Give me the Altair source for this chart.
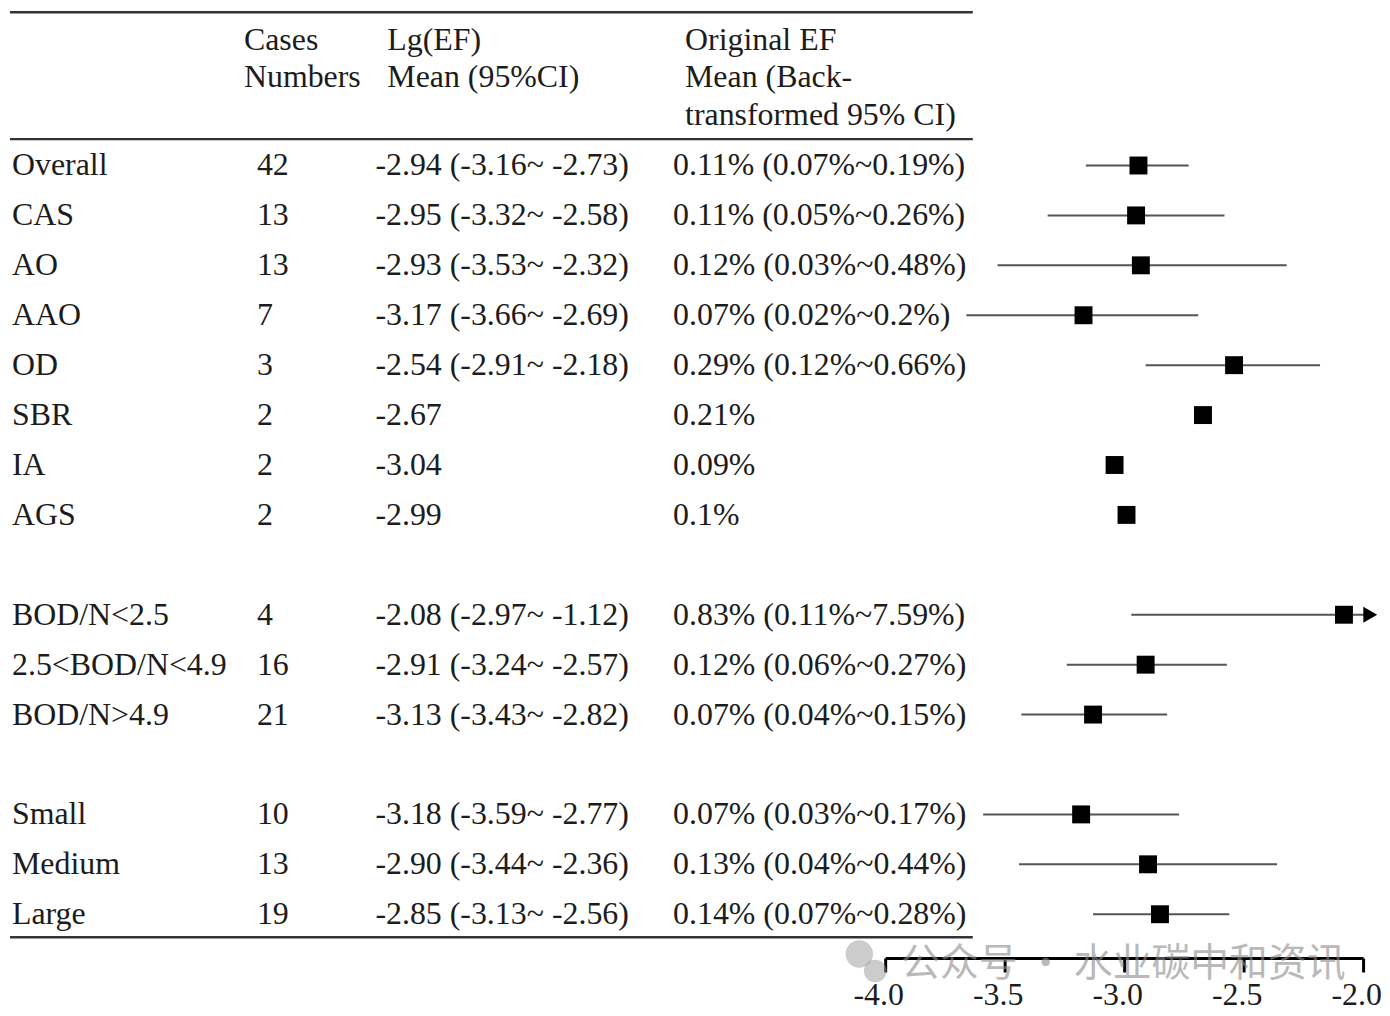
import altair as alt
import pandas as pd

# ---------------- data ----------------
labels = ["Overall", "CAS", "AO", "AAO", "OD", "SBR", "IA", "AGS",
          "BOD/N<2.5", "2.5<BOD/N<4.9", "BOD/N>4.9",
          "Small", "Medium", "Large"]
row_pos = [0, 1, 2, 3, 4, 5, 6, 7, 9, 10, 11, 13, 14, 15]
cases = [42, 13, 13, 7, 3, 2, 2, 2, 4, 16, 21, 10, 13, 19]
lg_mean = [-2.94, -2.95, -2.93, -3.17, -2.54, -2.67, -3.04, -2.99,
           -2.08, -2.91, -3.13, -3.18, -2.90, -2.85]
lg_low = [-3.16, -3.32, -3.53, -3.66, -2.91, None, None, None,
          -2.97, -3.24, -3.43, -3.59, -3.44, -3.13]
lg_high = [-2.73, -2.58, -2.32, -2.69, -2.18, None, None, None,
           -1.12, -2.57, -2.82, -2.77, -2.36, -2.56]
orig_text = ["0.11% (0.07%~0.19%)", "0.11% (0.05%~0.26%)", "0.12% (0.03%~0.48%)",
             "0.07% (0.02%~0.2%)", "0.29% (0.12%~0.66%)", "0.21%", "0.09%", "0.1%",
             "0.83% (0.11%~7.59%)", "0.12% (0.06%~0.27%)", "0.07% (0.04%~0.15%)",
             "0.07% (0.03%~0.17%)", "0.13% (0.04%~0.44%)", "0.14% (0.07%~0.28%)"]

header_cases = "Cases\nNumbers"
header_lg = "Lg(EF)\nMean (95%CI)"
header_orig = "Original EF\nMean (Back-\ntransformed 95% CI)"
axis_ticks = [-4.0, -3.5, -3.0, -2.5, -2.0]
x_domain = [-4.0, -2.0]
watermark = "公众号 · 水业碳中和资讯"

ARROW_X = -1.97  # where the out-of-range arrow head is drawn

lg_text = []
for m, l, u in zip(lg_mean, lg_low, lg_high):
    s = f"{m:.2f}"
    if l is not None:
        s += f" ({l:.2f}~ {u:.2f})"
    lg_text.append(s)

df = pd.DataFrame({
    "label": labels, "r": row_pos, "cases": [str(c) for c in cases],
    "lg_text": lg_text, "orig_text": orig_text,
    "mean": lg_mean, "low": lg_low, "high": lg_high,
})
ci = df.dropna(subset=["low"]).copy()
ci["high_draw"] = ci["high"].clip(upper=ARROW_X)
arrow = ci[ci["high"] > x_domain[1]].copy()
arrow["ax"] = ARROW_X

# ---------------- scales ----------------
FONT = "Liberation Serif"
FS = 32
TXT = "#1c1c1c"

x_scale = alt.Scale(domain=x_domain, range=[881, 1361], nice=False, zero=False)
y_scale = alt.Scale(domain=[0, 15], range=[156, 908], nice=False, zero=False)
x_axis = alt.Axis(values=axis_ticks, title=None, grid=False,
                  labelExpr="(datum.value < 0 ? '-' : '') + format(abs(datum.value), '.1f')",
                  labelFont=FONT, labelFontSize=FS, labelColor=TXT, labelPadding=8,
                  labelOffset=-7,
                  domainColor="#000000", domainWidth=3, tickColor="#000000",
                  tickWidth=3, tickSize=14, labelFlush=False, labelOverlap=False)

Y = alt.Y("r:Q", scale=y_scale, axis=None)

def col_text(field, xpix):
    return alt.Chart(df).mark_text(
        align="left", baseline="middle", font=FONT, fontSize=FS, color=TXT
    ).encode(x=alt.value(xpix), y=Y, text=f"{field}:N")

def hrule(ypix, x2pix):
    return alt.Chart(pd.DataFrame({"k": [0]})).mark_rule(
        color="#333333", strokeWidth=2.5
    ).encode(x=alt.value(2), x2=alt.value(x2pix), y=alt.value(ypix))

def header(text, xpix):
    return alt.Chart(pd.DataFrame({"t": [text]})).mark_text(
        align="left", baseline="top", font=FONT, fontSize=FS, color=TXT,
        lineBreak="\n", lineHeight=37.5
    ).encode(x=alt.value(xpix), y=alt.value(15), text="t:N")

rules = hrule(2, 969) + hrule(129.5, 969) + hrule(931, 969)
headers = header(header_cases, 237) + header(header_lg, 381) + header(header_orig, 680)
table = (col_text("label", 4) + col_text("cases", 250)
         + col_text("lg_text", 369) + col_text("orig_text", 668))

ci_lines = alt.Chart(ci).mark_rule(color="#555555", strokeWidth=2).encode(
    x=alt.X("low:Q", scale=x_scale, axis=x_axis), x2="high_draw:Q", y=Y)
squares = alt.Chart(df).mark_square(size=324, color="#000000", opacity=1).encode(
    x=alt.X("mean:Q", scale=x_scale, axis=x_axis), y=Y)
arrows = alt.Chart(arrow).mark_point(shape="triangle-right", filled=True,
                                     size=260, color="#000000", opacity=1).encode(
    x=alt.X("ax:Q", scale=x_scale, axis=x_axis), y=Y)

wm_icon = (alt.Chart(pd.DataFrame({"k": [0]})).mark_circle(size=760, color="#9a9a9a", opacity=0.5)
           .encode(x=alt.value(855), y=alt.value(948))
           + alt.Chart(pd.DataFrame({"k": [0]})).mark_circle(size=520, color="#9a9a9a", opacity=0.5)
           .encode(x=alt.value(871), y=alt.value(965)))
wm_text = alt.Chart(pd.DataFrame({"t": [watermark]})).mark_text(
    align="left", baseline="middle", font="Noto Sans CJK SC", fontSize=39,
    color="#8c8c8c", opacity=0.6
).encode(x=alt.value(897), y=alt.value(958), text="t:N")

chart = alt.layer(
    rules, headers, table, ci_lines, squares, arrows, wm_icon, wm_text
).properties(
    width=1380, height=952,
    autosize=alt.AutoSizeParams(type="none"),
    padding={"left": 0, "top": 0, "right": 0, "bottom": 52},
    background="white",
).configure_view(stroke=None)

chart.save("out.html", embed_options={"renderer": "svg", "actions": False})
